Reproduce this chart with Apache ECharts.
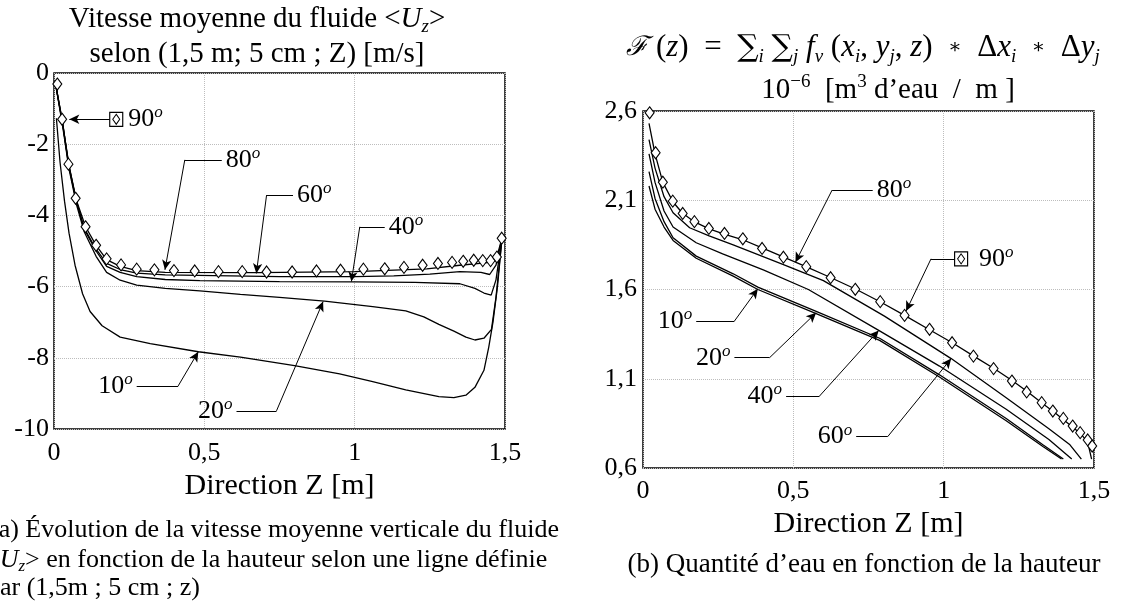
<!DOCTYPE html>
<html>
<head>
<meta charset="utf-8">
<script src="https://cdn.jsdelivr.net/npm/echarts@6/dist/echarts.min.js"></script>
<style>
html,body{margin:0;padding:0;background:#fff;}
#chart{width:1122px;height:606px;}
</style>
</head>
<body>
<div id="chart"></div>
<script>
// (a) vitesse moyenne <Uz> [m/s] selon z [m]
var uz10 = [[0.008,-1.27],[0.02,-2.5],[0.035,-3.6],[0.05,-4.5],[0.07,-5.4],[0.095,-6.2],[0.12,-6.7],[0.16,-7.1],[0.22,-7.42],[0.32,-7.6],[0.48,-7.83],[0.62,-7.98],[0.8,-8.22],[0.95,-8.45],[1.06,-8.67],[1.17,-8.9],[1.28,-9.09],[1.33,-9.12],[1.37,-9.05],[1.40,-8.83],[1.43,-8.35],[1.446,-7.7],[1.46,-7.0],[1.475,-6.0],[1.49,-4.64]];
var uz20 = [[0.005,-0.3],[0.028,-1.45],[0.05,-2.7],[0.075,-3.7],[0.1,-4.45],[0.14,-5.15],[0.175,-5.6],[0.22,-5.82],[0.275,-5.96],[0.37,-6.05],[0.485,-6.12],[0.62,-6.22],[0.75,-6.3],[0.9,-6.41],[1.06,-6.56],[1.17,-6.68],[1.23,-6.85],[1.28,-7.06],[1.33,-7.25],[1.37,-7.42],[1.40,-7.5],[1.43,-7.45],[1.455,-7.2],[1.47,-6.3],[1.49,-4.64]];
var uz40 = [[0.005,-0.3],[0.028,-1.4],[0.05,-2.62],[0.075,-3.62],[0.1,-4.38],[0.14,-5.0],[0.175,-5.43],[0.22,-5.6],[0.275,-5.72],[0.37,-5.8],[0.485,-5.83],[0.75,-5.86],[1.0,-5.87],[1.2,-5.88],[1.35,-5.92],[1.40,-6.05],[1.43,-6.18],[1.454,-6.24],[1.47,-5.81],[1.49,-4.64]];
var uz60 = [[0.005,-0.3],[0.028,-1.37],[0.05,-2.6],[0.075,-3.6],[0.1,-4.35],[0.14,-4.95],[0.175,-5.35],[0.22,-5.52],[0.275,-5.62],[0.37,-5.67],[0.75,-5.72],[1.0,-5.72],[1.13,-5.70],[1.25,-5.65],[1.35,-5.58],[1.42,-5.6],[1.449,-5.66],[1.47,-5.4],[1.49,-4.64]];
var uz80 = [[0.005,-0.3],[0.027,-1.3],[0.048,-2.56],[0.072,-3.52],[0.105,-4.32],[0.14,-4.84],[0.175,-5.24],[0.22,-5.43],[0.275,-5.55],[0.37,-5.6],[0.68,-5.61],[1.0,-5.58],[1.24,-5.5],[1.35,-5.4],[1.45,-5.32],[1.47,-5.25],[1.49,-4.64]];
var uz90 = [[0.011,-0.31],[0.027,-1.30],[0.048,-2.56],[0.072,-3.52],[0.105,-4.32],[0.14,-4.84],[0.175,-5.22],[0.223,-5.39],[0.275,-5.51],[0.334,-5.53],[0.399,-5.55],[0.468,-5.56],[0.547,-5.58],[0.626,-5.58],[0.707,-5.59],[0.792,-5.59],[0.873,-5.56],[0.953,-5.54],[1.029,-5.51],[1.10,-5.50],[1.164,-5.46],[1.226,-5.40],[1.277,-5.35],[1.324,-5.32],[1.361,-5.29],[1.396,-5.26],[1.426,-5.27],[1.452,-5.27],[1.473,-5.17],[1.489,-4.64]];

// (b) quantite d'eau F(z) [1e-6 m3/m]
var fv10 = [[0.02,2.18],[0.04,2.05],[0.07,1.95],[0.1,1.875],[0.177,1.775],[0.3,1.675],[0.382,1.6],[0.576,1.465],[0.787,1.315],[0.986,1.11],[1.208,0.865],[1.33,0.72],[1.392,0.65]];
var fv20 = [[0.02,2.26],[0.04,2.11],[0.07,1.98],[0.1,1.89],[0.177,1.787],[0.3,1.688],[0.382,1.613],[0.576,1.478],[0.787,1.327],[0.986,1.122],[1.208,0.877],[1.33,0.73],[1.398,0.65]];
var fv40 = [[0.02,2.36],[0.04,2.2],[0.07,2.04],[0.1,1.95],[0.177,1.862],[0.265,1.80],[0.4,1.71],[0.55,1.6],[0.784,1.371],[0.986,1.171],[1.208,0.929],[1.35,0.76],[1.426,0.65]];
var fv60 = [[0.02,2.44],[0.04,2.28],[0.07,2.12],[0.1,2.03],[0.155,1.946],[0.22,1.9],[0.3,1.85],[0.465,1.741],[0.6,1.65],[0.803,1.451],[1.025,1.213],[1.208,0.994],[1.35,0.82],[1.42,0.73],[1.458,0.65]];
var fv80 = [[0.02,2.53],[0.04,2.36],[0.066,2.2],[0.1,2.09],[0.13,2.03],[0.17,1.98],[0.22,1.94],[0.27,1.91],[0.33,1.88],[0.4,1.83],[0.47,1.78],[0.54,1.73],[0.62,1.67],[0.71,1.6],[0.79,1.53],[0.87,1.455],[0.95,1.377],[1.03,1.3],[1.1,1.227],[1.17,1.155],[1.23,1.087],[1.28,1.026],[1.33,0.96],[1.37,0.91],[1.41,0.855],[1.454,0.795],[1.479,0.745],[1.492,0.65]];
var fv90 = [[0.022,2.59],[0.042,2.366],[0.066,2.201],[0.099,2.095],[0.132,2.026],[0.171,1.98],[0.219,1.942],[0.271,1.914],[0.332,1.884],[0.396,1.83],[0.467,1.781],[0.543,1.728],[0.624,1.666],[0.706,1.601],[0.789,1.532],[0.87,1.455],[0.953,1.377],[1.028,1.302],[1.099,1.227],[1.166,1.157],[1.227,1.087],[1.276,1.026],[1.326,0.966],[1.363,0.919],[1.398,0.878],[1.429,0.835],[1.454,0.798],[1.479,0.757],[1.494,0.723]];

// fleches d'annotation : pointe, coude, fin du trait horizontal, cote du texte
var calloutsA = [
	{ deg: '80', tip: [0.369, -5.53], elbow: [0.435, -2.44], end: [0.558, -2.44], side: 'right' },
	{ deg: '60', tip: [0.673, -5.63], elbow: [0.707, -3.43], end: [0.795, -3.43], side: 'right' },
	{ deg: '40', tip: [0.989, -5.86], elbow: [1.017, -4.32], end: [1.10, -4.32], side: 'right' },
	{ deg: '10', tip: [0.48, -7.83], elbow: [0.413, -8.79], end: [0.275, -8.79], side: 'left' },
	{ deg: '20', tip: [0.895, -6.42], elbow: [0.74, -9.49], end: [0.607, -9.49], side: 'left' }
];
var legendA = { tip: [0.051, -1.30], end: [0.186, -1.30], box: [0.207, -1.30] };

var calloutsB = [
	{ deg: '80', tip: [0.507, 1.753], elbow: [0.629, 2.157], end: [0.764, 2.157], side: 'right' },
	{ deg: '10', tip: [0.382, 1.604], elbow: [0.304, 1.423], end: [0.177, 1.423], side: 'left' },
	{ deg: '20', tip: [0.576, 1.470], elbow: [0.421, 1.218], end: [0.304, 1.218], side: 'left' },
	{ deg: '40', tip: [0.784, 1.371], elbow: [0.587, 1.003], end: [0.476, 1.003], side: 'left' },
	{ deg: '60', tip: [1.025, 1.213], elbow: [0.814, 0.776], end: [0.709, 0.776], side: 'left' }
];
var legendB = { tip: [0.875, 1.479], elbow: [0.958, 1.772], end: [1.036, 1.772], box: [1.058, 1.772] };

var FONT = 'Liberation Serif';

var chart = echarts.init(document.getElementById('chart'));

function tickLabel(v) {
	return String(Math.round(v * 10) / 10).replace('.', ',');
}

var degRich = {
	n: { fontFamily: FONT, fontSize: 26, lineHeight: 30, color: '#000' },
	s: { fontFamily: FONT, fontSize: 17, fontStyle: 'italic', lineHeight: 17, verticalAlign: 'top', color: '#000' }
};

var txtRich = {
	m: { fontFamily: FONT, fontSize: 29, lineHeight: 34, color: '#000' },
	i: { fontFamily: FONT, fontSize: 29, lineHeight: 34, fontStyle: 'italic', color: '#000' },
	M: { fontFamily: FONT, fontSize: 31, lineHeight: 36, color: '#000' },
	I: { fontFamily: FONT, fontSize: 31, lineHeight: 36, fontStyle: 'italic', color: '#000' },
	F: { fontFamily: 'DejaVu Serif', fontSize: 27, lineHeight: 36, fontStyle: 'italic', color: '#000' },
	S: { fontFamily: 'DejaVu Serif', fontSize: 30, lineHeight: 36, color: '#000' },
	o: { fontFamily: 'DejaVu Serif', fontSize: 20, lineHeight: 36, color: '#000' },
	b: { fontFamily: FONT, fontSize: 19, fontStyle: 'italic', lineHeight: 19, verticalAlign: 'bottom', color: '#000' },
	t: { fontFamily: FONT, fontSize: 19, lineHeight: 19, verticalAlign: 'top', color: '#000' },
	c: { fontFamily: FONT, fontSize: 27, lineHeight: 30, color: '#000' },
	a: { fontFamily: FONT, fontSize: 26, lineHeight: 30, color: '#000' },
	ai: { fontFamily: FONT, fontSize: 26, lineHeight: 30, fontStyle: 'italic', color: '#000' },
	ab: { fontFamily: FONT, fontSize: 17, fontStyle: 'italic', lineHeight: 17, verticalAlign: 'bottom', color: '#000' }
};

function buildMarks(callouts, legend) {
	var lines = [], points = [];
	callouts.forEach(function(c) {
		lines.push([{ coord: c.end, symbol: 'none' }, { coord: c.elbow, symbol: 'none' }]);
		lines.push([{ coord: c.elbow, symbol: 'none' }, { coord: c.tip, symbol: 'arrow' }]);
		points.push({
			coord: c.end, symbol: 'circle', symbolSize: 0,
			label: { show: true, position: c.side, distance: 4, formatter: '{n|' + c.deg + '}{s|o}', rich: degRich }
		});
	});
	if (legend.elbow) {
		lines.push([{ coord: legend.end, symbol: 'none' }, { coord: legend.elbow, symbol: 'none' }]);
		lines.push([{ coord: legend.elbow, symbol: 'none' }, { coord: legend.tip, symbol: 'arrow' }]);
	} else {
		lines.push([{ coord: legend.end, symbol: 'none' }, { coord: legend.tip, symbol: 'arrow' }]);
	}
	points.push({
		coord: legend.box, symbol: 'rect', symbolSize: [13, 14],
		itemStyle: { color: '#fff', borderColor: '#000', borderWidth: 1.2 }
	});
	points.push({
		coord: legend.box, symbol: 'diamond', symbolSize: [7, 10],
		itemStyle: { color: '#fff', borderColor: '#000', borderWidth: 1 }
	});
	points.push({
		coord: legend.box, symbol: 'circle', symbolSize: 0,
		label: { show: true, position: 'right', distance: legend.elbow ? 18 : 12, formatter: '{n|90}{s|o}', rich: degRich }
	});
	return {
		markLine: {
			silent: true, animation: false, symbolSize: [7, 10],
			label: { show: false },
			lineStyle: { color: '#000', width: 1, type: 'solid' },
			emphasis: { disabled: true },
			data: lines
		},
		markPoint: {
			silent: true, animation: false,
			label: { show: false },
			itemStyle: { color: '#000' },
			data: points
		}
	};
}

function curve(data, idx, marks) {
	var s = {
		type: 'line', xAxisIndex: idx, yAxisIndex: idx, data: data,
		symbol: 'none', showSymbol: false, silent: true, animation: false,
		lineStyle: { color: '#000', width: 1.3 }, itemStyle: { color: '#000' }, z: 3
	};
	if (marks) {
		s.markLine = marks.markLine;
		s.markPoint = marks.markPoint;
	}
	return s;
}

function diamonds(data, idx) {
	return {
		type: 'scatter', xAxisIndex: idx, yAxisIndex: idx, data: data,
		symbol: 'diamond', symbolSize: [9, 12], silent: true, animation: false,
		itemStyle: { color: '#fff', borderColor: '#000', borderWidth: 1.1, opacity: 1 }, z: 4
	};
}

function xAxisOf(idx, gap, margin) {
	return {
		type: 'value', gridIndex: idx, min: 0, max: 1.5, interval: 0.5,
		name: 'Direction Z [m]', nameLocation: 'middle', nameGap: gap,
		nameTextStyle: { fontFamily: FONT, fontSize: 30, color: '#000' },
		axisLine: { show: false }, axisTick: { show: false },
		axisLabel: { fontFamily: FONT, fontSize: 26, color: '#000', margin: margin, formatter: tickLabel },
		splitLine: { show: true, lineStyle: { color: '#bdbdbd', type: 'dotted', width: 1 } }
	};
}

var option = {
	backgroundColor: '#fff',
	animation: false,
	grid: [
		{ left: 54, top: 73, width: 451, height: 356, show: true, borderColor: '#000', borderWidth: 1.5, backgroundColor: 'transparent' },
		{ left: 643, top: 111, width: 451, height: 357, show: true, borderColor: '#000', borderWidth: 1.5, backgroundColor: 'transparent' }
	],
	xAxis: [xAxisOf(0, 39, 11), xAxisOf(1, 37, 10)],
	yAxis: [{
		type: 'value', gridIndex: 0, min: -10, max: 0, interval: 2,
		axisLine: { show: false }, axisTick: { show: false },
		axisLabel: { fontFamily: FONT, fontSize: 26, color: '#000', margin: 5, formatter: tickLabel },
		splitLine: { show: true, lineStyle: { color: '#bdbdbd', type: 'dotted', width: 1 } }
	}, {
		type: 'value', gridIndex: 1, min: 0.6, max: 2.6, interval: 0.5,
		axisLine: { show: false }, axisTick: { show: false },
		axisLabel: { fontFamily: FONT, fontSize: 26, color: '#000', margin: 6, formatter: tickLabel },
		splitLine: { show: true, lineStyle: { color: '#bdbdbd', type: 'dotted', width: 1 } }
	}],
	series: [
		curve(uz10, 0, buildMarks(calloutsA, legendA)),
		curve(uz20, 0), curve(uz40, 0), curve(uz60, 0), curve(uz80, 0),
		diamonds(uz90, 0),
		curve(fv10, 1, buildMarks(calloutsB, legendB)),
		curve(fv20, 1), curve(fv40, 1), curve(fv60, 1), curve(fv80, 1),
		diamonds(fv90, 1)
	],
	graphic: [
		{ type: 'text', x: 257, y: 19, silent: true, style: { text: '{m|Vitesse moyenne du fluide <}{i|U}{b|z}{m|>}', rich: txtRich, align: 'center', verticalAlign: 'middle' } },
		{ type: 'text', x: 257, y: 54, silent: true, style: { text: '{m|selon (1,5 m; 5 cm ; Z) [m/s]}', rich: txtRich, align: 'center', verticalAlign: 'middle' } },
		{ type: 'text', x: 863, y: 48, silent: true, style: {
			text: '{F|ℱ}{M| (}{I|z}{M|)  =  }{S|∑}{b|i}{M| }{S|∑}{b|j}{M| }{I|f}{b|v}{M| (}{I|x}{b|i}{M|, }{I|y}{b|j}{M|, }{I|z}{M|)  }{o|∗}{M|  Δ}{I|x}{b|i}{M|  }{o|∗}{M|  Δ}{I|y}{b|j}',
			rich: txtRich, align: 'center', verticalAlign: 'middle' } },
		{ type: 'text', x: 888, y: 90, silent: true, style: { text: '{m|10}{t|−6}{m|  [m}{t|3}{m| d’eau  /  m ]}', rich: txtRich, align: 'center', verticalAlign: 'middle' } },
		{ type: 'text', x: -10, y: 530, silent: true, style: { text: '{a|(a) Évolution de la vitesse moyenne verticale du fluide}', rich: txtRich, align: 'left', verticalAlign: 'middle' } },
		{ type: 'text', x: -15, y: 560, silent: true, style: { text: '{a|<}{ai|U}{ab|z}{a|> en fonction de la hauteur selon une ligne définie}', rich: txtRich, align: 'left', verticalAlign: 'middle' } },
		{ type: 'text', x: -13, y: 588, silent: true, style: { text: '{a|par (1,5m ; 5 cm ; z)}', rich: txtRich, align: 'left', verticalAlign: 'middle' } },
		{ type: 'text', x: 864, y: 565, silent: true, style: { text: '{c|(b) Quantité d’eau en fonction de la hauteur}', rich: txtRich, align: 'center', verticalAlign: 'middle' } }
	]
};

chart.setOption(option);
</script>
</body>
</html>
